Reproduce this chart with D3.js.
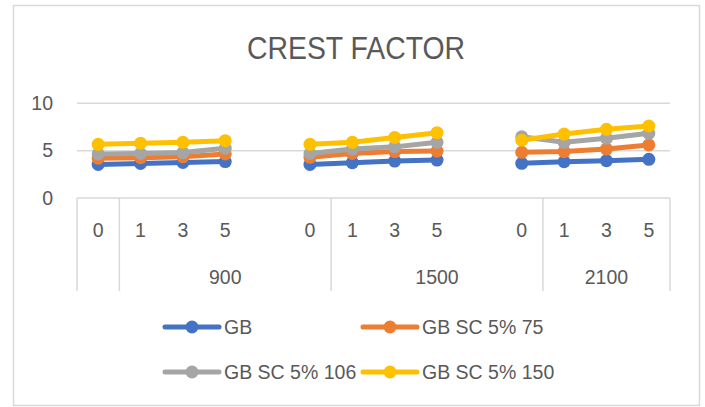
<!DOCTYPE html>
<html>
<head>
<meta charset="utf-8">
<script src="https://cdn.jsdelivr.net/npm/d3@7"></script>
<style>
  body { margin: 0; background: #fff; }
  text { font-family: "Liberation Sans", Arial, sans-serif; fill: #595959; }
</style>
</head>
<body>
<div id="chart"></div>
<script>
// categories (blank slot between groups, as in the source sheet)
const periods = ["0", "1", "3", "5", "", "0", "1", "3", "5", "", "0", "1", "3", "5"];
const groupLabels = ["", "900", "1500", "2100"];
const groupSpans = [1, 5, 5, 3];
const yTicks = [0, 5, 10];

const seriesNames = ["GB", "GB SC 5% 75", "GB SC 5% 106", "GB SC 5% 150"];
const seriesColors = ["#4472C4", "#ED7D31", "#A5A5A5", "#FFC000"];
const gb      = [3.55, 3.65, 3.75, 3.85, null, 3.55, 3.73, 3.9, 4.0, null, 3.66, 3.83, 3.94, 4.08];
const gb75    = [4.2, 4.25, 4.35, 4.65, null, 4.3, 4.7, 4.9, 4.95, null, 4.82, 4.9, 5.17, 5.6];
const gb106   = [4.65, 4.7, 4.8, 5.25, null, 4.7, 5.17, 5.4, 5.88, null, 6.47, 5.88, 6.3, 6.83];
const gb150   = [5.67, 5.78, 5.88, 6.05, null, 5.67, 5.88, 6.4, 6.9, null, 6.1, 6.75, 7.25, 7.6];
const allSeries = [gb, gb75, gb106, gb150];

const W = 705, H = 407;
const plot = { left: 77, right: 670, top: 103.3, bottom: 198 };

const svg = d3.select("#chart").append("svg")
  .attr("width", W).attr("height", H);

// outer chart border
svg.append("rect")
  .attr("x", 13.5).attr("y", 5.5)
  .attr("width", 686).attr("height", 400)
  .attr("fill", "#fff").attr("stroke", "#D9D9D9").attr("stroke-width", 1.5);

svg.append("text")
  .attr("x", 356).attr("y", 59)
  .attr("text-anchor", "middle")
  .attr("font-size", 32)
  .attr("textLength", 218).attr("lengthAdjust", "spacingAndGlyphs")
  .text("CREST FACTOR");

const x = d3.scaleBand()
  .domain(d3.range(periods.length))
  .range([plot.left, plot.right]);

const y = d3.scaleLinear()
  .domain([0, 10])
  .range([plot.bottom, plot.top]);

// gridlines
svg.append("g")
  .selectAll("line")
  .data(yTicks)
  .join("line")
    .attr("x1", plot.left).attr("x2", plot.right)
    .attr("y1", d => y(d)).attr("y2", d => y(d))
    .attr("stroke", "#D9D9D9").attr("stroke-width", 1.5);

// y labels
svg.append("g")
  .selectAll("text")
  .data(yTicks)
  .join("text")
    .attr("x", 53).attr("y", d => y(d))
    .attr("dy", "0.35em")
    .attr("text-anchor", "end")
    .attr("font-size", 19.5)
    .text(d => d);

// first-level category labels
svg.append("g")
  .selectAll("text")
  .data(periods)
  .join("text")
    .attr("x", (d, i) => x(i) + x.bandwidth() / 2)
    .attr("y", 230)
    .attr("dy", "0.35em")
    .attr("text-anchor", "middle")
    .attr("font-size", 19.5)
    .text(d => d);

// group spans
let acc = 0;
const groups = groupLabels.map((g, i) => {
  const start = acc;
  acc += groupSpans[i];
  return { label: g, start, end: acc };
});
const edgeX = i => i >= periods.length ? plot.right : x(i);

svg.append("g")
  .selectAll("line")
  .data([0, ...groups.map(g => g.end)])
  .join("line")
    .attr("x1", d => edgeX(d)).attr("x2", d => edgeX(d))
    .attr("y1", plot.bottom).attr("y2", 291)
    .attr("stroke", "#D9D9D9").attr("stroke-width", 1.5);

svg.append("g")
  .selectAll("text")
  .data(groups)
  .join("text")
    .attr("x", d => (edgeX(d.start) + edgeX(d.end)) / 2)
    .attr("y", 277)
    .attr("dy", "0.35em")
    .attr("text-anchor", "middle")
    .attr("font-size", 19.5)
    .text(d => d.label);

// series
const line = d3.line()
  .defined(d => d != null)
  .x((d, i) => x(i) + x.bandwidth() / 2)
  .y(d => y(d));

allSeries.forEach((vals, s) => {
  const g = svg.append("g");
  g.append("path")
    .attr("d", line(vals))
    .attr("fill", "none")
    .attr("stroke", seriesColors[s])
    .attr("stroke-width", 5)
    .attr("stroke-linejoin", "round");
  g.selectAll("circle")
    .data(vals.map((v, i) => ({ v, i })).filter(d => d.v != null))
    .join("circle")
      .attr("cx", d => x(d.i) + x.bandwidth() / 2)
      .attr("cy", d => y(d.v))
      .attr("r", 6.5)
      .attr("fill", seriesColors[s]);
});

// legend
const legendPos = [[165, 327], [363, 327], [165, 372], [363, 372]];
seriesNames.forEach((name, s) => {
  const [lx, ly] = legendPos[s];
  const g = svg.append("g").attr("transform", `translate(${lx},${ly})`);
  g.append("line")
    .attr("x1", 0).attr("x2", 54)
    .attr("stroke", seriesColors[s]).attr("stroke-width", 5)
    .attr("stroke-linecap", "round");
  g.append("circle").attr("cx", 27).attr("r", 6.5).attr("fill", seriesColors[s]);
  g.append("text")
    .attr("x", 59).attr("dy", "0.35em")
    .attr("font-size", 19.5)
    .text(name);
});
</script>
</body>
</html>
